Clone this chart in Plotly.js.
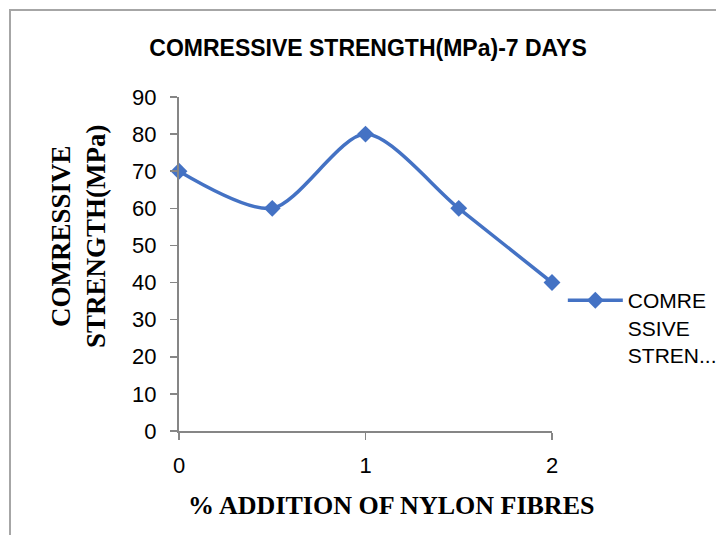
<!DOCTYPE html>
<html>
<head>
<meta charset="utf-8">
<script src="https://cdn.plot.ly/plotly-3.0.1.min.js"></script>
<style>
html,body{margin:0;padding:0;background:#fff;}
#wrap{position:relative;width:716px;height:535px;overflow:hidden;}
#chart{position:absolute;left:0;top:0;width:716px;height:535px;}
#frame{position:absolute;left:9px;top:9px;width:800px;height:600px;border-left:2px solid #a6a6a6;border-top:2px solid #a6a6a6;pointer-events:none;}
</style>
</head>
<body>
<div id="wrap"><div id="chart"></div><div id="frame"></div></div>
<script>
const xValues = [0, 0.5, 1, 1.5, 2];
const strength = [70, 60, 80, 60, 40];
const xTicks = [0, 1, 2];
const yTicks = [0, 10, 20, 30, 40, 50, 60, 70, 80, 90];
const seriesName = 'COMRE<br>SSIVE<br>STREN...';
const chartTitle = 'COMRESSIVE STRENGTH(MPa)-7 DAYS';
const xTitle = '% ADDITION OF NYLON FIBRES';
const yTitle = 'COMRESSIVE<br>STRENGTH(MPa)';

const trace = {
  x: xValues, y: strength, type: 'scatter', mode: 'lines+markers',
  name: seriesName,
  line: {color: '#4472C4', width: 3.5, shape: 'spline', smoothing: 0.8},
  marker: {symbol: 'diamond', size: 13, color: '#4472C4'},
  cliponaxis: false
};

const layout = {
  width: 716, height: 535,
  margin: {l: 179, r: 164, t: 97, b: 104, autoexpand: false},
  paper_bgcolor: '#fff', plot_bgcolor: '#fff',
  showlegend: true,
  title: {text: chartTitle, font: {family: 'Liberation Sans Narrow, Arial Narrow, sans-serif', size: 23, color: '#000', weight: 'bold'},
    x: 0.514, xanchor: 'center', y: 1 - 48/535, yanchor: 'middle', yref: 'container'},
  xaxis: {range: [0, 2], tickvals: xTicks, ticktext: xTicks.map(String), showgrid: false, zeroline: false,
    showline: true, linecolor: '#868686', linewidth: 2, ticks: 'outside', ticklen: 7, tickcolor: '#868686', tickwidth: 1.5,
    ticklabelstandoff: 7,
    tickfont: {family: 'Liberation Sans, Arial, sans-serif', size: 22, color: '#000'}},
  yaxis: {range: [0, 90], tickvals: yTicks, showgrid: false, zeroline: false,
    showline: true, linecolor: '#868686', linewidth: 2, ticks: 'outside', ticklen: 7, tickcolor: '#868686', tickwidth: 1.5,
    ticklabelstandoff: 9,
    tickfont: {family: 'Liberation Sans, Arial, sans-serif', size: 22, color: '#000'}},
  legend: {x: 1.029, xanchor: 'left', y: 0.452, yanchor: 'top', valign: 'top', itemwidth: 55,
    font: {family: 'Liberation Sans, Arial, sans-serif', size: 21, color: '#000'}, bgcolor: 'rgba(0,0,0,0)'},
  annotations: [
    {text: xTitle, xref: 'paper', yref: 'paper', x: (391-179)/373, y: -(505-431)/334, xanchor: 'center', yanchor: 'middle', showarrow: false,
      font: {family: 'Liberation Serif, Times New Roman, serif', size: 26, color: '#000', weight: 'bold'}},
    {text: yTitle, xref: 'paper', yref: 'paper', x: (78-179)/373, y: (431-236)/334, xanchor: 'center', yanchor: 'middle', showarrow: false, textangle: -90,
      font: {family: 'Liberation Serif, Times New Roman, serif', size: 27, color: '#000', weight: 'bold'}}
  ]
};

Plotly.newPlot('chart', [trace], layout, {displayModeBar: false, staticPlot: true});
</script>
</body>
</html>
